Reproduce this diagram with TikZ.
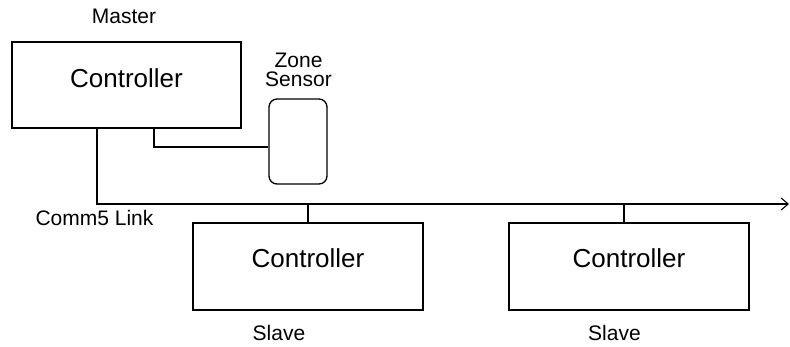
\documentclass[tikz,border=0pt]{standalone}
\usepackage{fontspec}
\setmainfont{Liberation Sans}
\usetikzlibrary{arrows.meta}
\begin{document}
\begin{tikzpicture}[x=1pt,y=-1pt,
  box/.style={draw, line width=1.3pt, inner sep=0pt},
  sensorbox/.style={draw, line width=1.3pt, inner sep=0pt, rounded corners=8pt},
  ctltext/.style={inner sep=0pt, font=\fontsize{26}{30}\selectfont},
  lbl/.style={inner sep=0pt, font=\fontsize{21}{19}\selectfont, align=center},
  wire/.style={line width=1.3pt}]
\useasboundingbox (0,0) rectangle (790,346);
% boxes
\node[box, minimum width=229pt, minimum height=86pt] (master) at (126.5,85) {};
\node[ctltext] (mastertext) at (126.5,78) {Controller};
\node[lbl] (masterlbl) at (124,16.7) {Master};
\node[sensorbox, minimum width=58pt, minimum height=85pt] (sensor) at (298,141.5) {};
\node[lbl] (sensorlbl) at (298.5,69.5) {Zone\\Sensor};
\node[box, minimum width=230pt, minimum height=87pt] (slave1) at (308,266.5) {};
\node[ctltext] (slave1text) at (308,258) {Controller};
\node[lbl] (slave1lbl) at (279,333) {Slave};
\node[box, minimum width=240pt, minimum height=87pt] (slave2) at (629,266.5) {};
\node[ctltext] (slave2text) at (629,258.5) {Controller};
\node[lbl] (slave2lbl) at (614.5,333) {Slave};
\node[lbl] (commlbl) at (94.5,218) {Comm5 Link};
% connectors
\coordinate (busend) at (789,204);
\draw[wire, -{Straight Barb[length=7pt,width=12pt,line width=1.1pt]}]
  ([xshift=-29.5pt]master.south) |- (busend);
\draw[wire] ([xshift=27.5pt]master.south) |- ([yshift=-5.5pt]sensor.west);
\draw[wire] (slave1.north) -- (slave1.north |- busend);
\draw[wire] ([xshift=-5pt]slave2.north) -- ([xshift=-5pt]slave2.north |- busend);
\end{tikzpicture}
\end{document}
